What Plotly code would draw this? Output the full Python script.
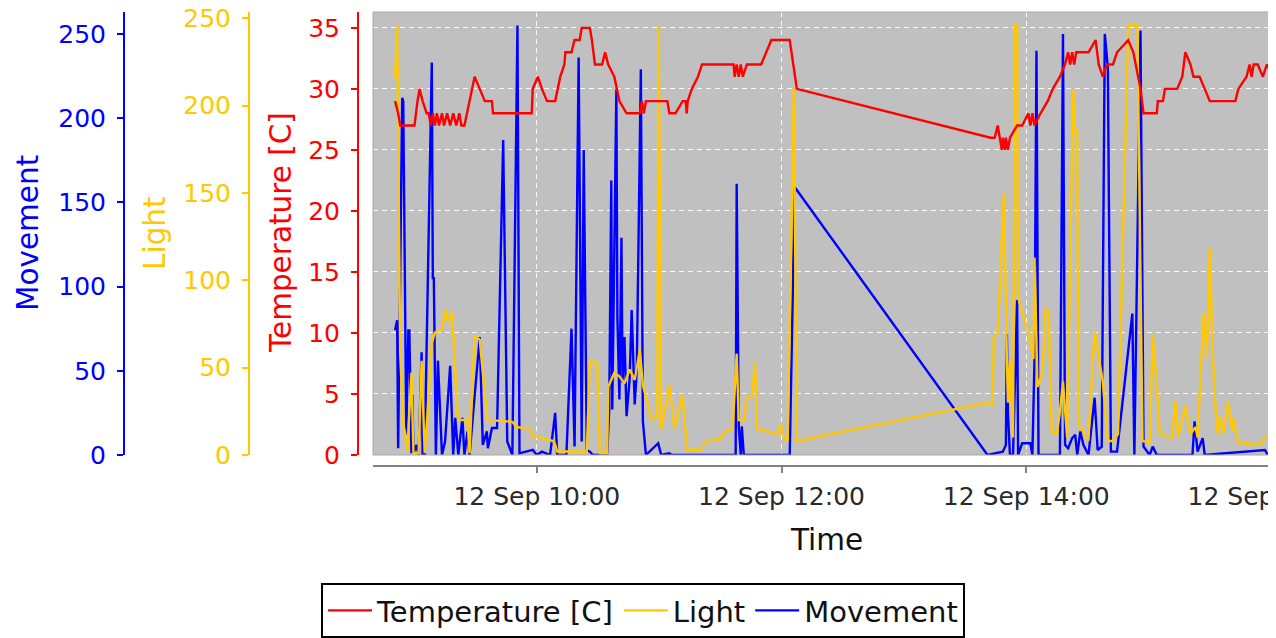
import plotly.graph_objects as go

DAY = "2013-09-12 "

# ---------------- data ----------------
temp_times = ["08:50:30","08:52:00","08:53:00","09:00:00","09:01:30","09:02:30","09:04:00","09:06:00","09:07:00","09:08:00",
              "09:09:00","09:10:00","09:11:00","09:12:00","09:13:30","09:14:30","09:16:00","09:17:30","09:19:00","09:20:30",
              "09:22:00","09:23:00","09:24:30","09:28:30","09:29:30","09:32:00","09:34:30","09:38:00","09:38:30","09:57:30",
              "09:58:00","10:00:30","10:02:30","10:05:00","10:09:00","10:11:30","10:13:30","10:14:00","10:17:00","10:18:30",
              "10:21:00","10:22:00","10:26:00","10:27:00","10:28:30","10:32:00","10:33:30","10:35:00","10:38:00","10:40:30",
              "10:44:00","10:50:30","10:51:30","10:52:30","10:53:30","11:04:00","11:05:00","11:08:00","11:11:30","11:13:00",
              "11:13:30","11:14:00","11:16:00","11:19:00","11:21:00","11:36:30","11:37:00","11:38:00","11:39:00","11:40:00",
              "11:41:00","11:43:00","11:50:00","11:55:00","12:04:00","12:07:30",
              "13:42:30","13:44:30","13:46:00","13:47:00","13:48:00","13:48:30","13:49:30","13:50:00","13:51:00","13:52:00",
              "13:55:30","13:58:00","14:01:00","14:02:00","14:03:00","14:04:00","14:07:00","14:10:30","14:13:00","14:16:30",
              "14:19:00","14:20:30","14:21:30","14:22:30","14:23:30","14:24:30","14:30:30","14:34:00","14:35:30","14:37:30",
              "14:39:30","14:42:30","14:44:30","14:50:00","14:52:30","14:56:00","14:57:30","15:04:00","15:04:30","15:07:00",
              "15:08:00","15:14:00","15:16:30","15:18:00","15:20:30","15:22:00","15:25:00","15:27:30","15:30:00","15:42:30",
              "15:44:00","15:48:00","15:49:30","15:50:30","15:51:30","15:53:30","15:56:00","15:58:00","16:01:00","16:02:30"]
temp_values = [29,28,27,27,29,30,29,28,28,27,
               28,27,28,27,28,27,28,27,28,27,
               28,27,27,30,31,30,29,29,28,28,
               30,31,30,29,29,31,32,33,33,34,
               34,35,35,34,32,32,33,32,31,29,
               28,28,29,28,29,29,28,28,29,29,
               28,29,30,31,32,32,31,32,31,32,
               31,32,32,34,34,30,
               26,26,27,26,25,26,25,26,25,26,
               27,27,28,27,28,27,28,29,30,31,
               32,33,32,33,32,33,33,34,32,31,
               32,32,33,34,33,30,28,28,29,29,
               30,30,31,33,32,31,31,30,29,29,
               30,31,32,31,32,32,31,32,31,30]

light_times = ["08:50:30","08:51:30","08:53:00","08:54:30","08:55:30","08:56:30","08:58:30","08:59:30","09:02:00","09:03:30",
               "09:05:00","09:06:30","09:08:30","09:10:00","09:13:30","09:15:00","09:16:30","09:18:30","09:21:00","09:21:30",
               "09:26:00","09:27:00","09:29:30","09:32:00","09:35:30","09:36:00","09:48:00","09:50:00","09:56:30","09:58:00",
               "10:08:00","10:09:00","10:10:00","10:24:30","10:26:00","10:29:30","10:31:00","10:34:30","10:35:00","10:38:00",
               "10:40:30","10:43:00","10:45:30","10:48:00","10:50:30","10:52:00","10:54:00","10:56:30","10:59:00","10:59:45",
               "11:01:00","11:05:00","11:07:30","11:11:30","11:13:30","11:20:00","11:23:30","11:29:30","11:33:00","11:36:00",
               "11:38:00","11:39:00","11:41:30","11:43:00","11:45:30","11:47:00","11:48:00","11:58:00","11:59:30","12:01:00",
               "12:03:00","12:06:00","12:07:30",
               "13:41:30","13:43:30","13:44:00","13:46:00","13:49:00","13:50:30","13:51:00","13:52:00","13:53:30","13:54:30",
               "13:55:30","13:56:00","14:01:00","14:03:30","14:04:00","14:05:30","14:08:00","14:09:30","14:11:00","14:12:30",
               "14:15:00","14:16:30","14:18:00","14:20:00","14:23:00","14:24:00","14:25:00","14:25:30","14:27:30","14:29:00",
               "14:30:30","14:33:30","14:37:30","14:40:00","14:42:30","14:45:00","14:50:00","14:54:30","14:57:00","15:00:30",
               "15:02:00","15:04:00","15:05:30","15:11:30","15:13:00","15:14:30","15:18:00","15:20:30","15:23:00","15:24:00",
               "15:26:00","15:27:00","15:28:30","15:30:00","15:31:30","15:33:30","15:35:00","15:36:30","15:39:00","15:41:00",
               "15:41:30","15:44:00","15:54:30","15:57:00","16:00:30","16:02:30"]
light_values = [216,246,58,18,12,2,47,1,1,54,
                1,25,64,70,72,83,76,82,24,20,
                20,1,68,66,22,20,19,16,15,11,
                8,6,2,2,54,53,1,1,39,47,
                45,41,49,43,60,40,31,20,22,246,
                15,40,15,35,3,3,8,9,14,15,
                58,20,20,33,34,53,15,12,18,10,
                8,210,8,
                30,28,67,70,150,54,30,54,10,246,
                246,90,70,55,113,39,47,84,82,13,
                12,25,42,10,209,184,186,17,15,10,
                9,71,42,8,8,12,246,246,8,7,
                69,40,12,10,31,10,28,12,16,10,
                58,81,56,119,55,12,22,12,31,14,
                21,7,6,10,12,20]

move_times = ["08:50:30","08:51:30","08:52:00","08:54:00","08:54:30","08:56:00","08:57:00","08:57:30","08:58:30","08:59:00",
              "08:59:30","09:01:00","09:02:00","09:03:30","09:04:00","09:05:00","09:08:30","09:09:00","09:09:30","09:10:30",
              "09:11:30","09:13:30","09:15:00","09:17:30","09:19:00","09:20:00","09:21:30","09:23:30","09:24:30","09:26:00",
              "09:27:00","09:32:00","09:33:30","09:35:30","09:36:00","09:38:00","09:40:30","09:43:30","09:45:30","09:48:00",
              "09:50:30","09:51:30","09:58:00","10:00:00","10:02:30","10:06:30","10:09:00","10:10:00","10:14:30","10:17:00",
              "10:18:30","10:20:30","10:22:00","10:23:00","10:24:30","10:26:00","10:27:30","10:34:30","10:35:30","10:36:30",
              "10:37:00","10:39:00","10:39:30","10:40:30","10:41:30","10:42:00","10:43:00","10:44:00","10:45:30","10:46:30",
              "10:48:00","10:49:00","10:51:00","10:52:00","10:53:30","10:59:30","11:01:00","11:05:00","11:06:00","11:37:30",
              "11:38:00","11:39:00","11:40:00","11:40:30","11:41:30","12:04:00","12:06:30",
              "13:41:00","13:48:30","13:50:00","13:50:30","13:51:00","13:52:00","13:53:30","13:55:30","13:56:00","13:58:00",
              "14:02:00","14:03:00","14:04:00","14:05:00","14:06:00","14:16:30","14:18:00","14:19:00","14:20:30","14:22:30",
              "14:24:00","14:25:00","14:26:30","14:28:00","14:30:30","14:33:30","14:35:00","14:37:00","14:38:30","14:40:00",
              "14:41:30","14:44:30","14:52:00","14:53:00","14:56:00","14:57:30","14:59:30","15:00:30","15:02:00","15:04:00",
              "15:21:30","15:22:30","15:24:00","15:26:30","15:27:30","15:57:00","15:58:30","16:02:30"]
move_values = [74,80,4,212,210,12,74,74,1,36,
               1,6,0,61,0,0,233,105,105,0,
               56,0,8,53,0,22,0,22,0,14,
               0,70,6,14,4,16,16,187,8,0,
               255,1,3,0,2,0,25,0,0,75,
               5,236,8,181,3,2,0,0,27,163,
               27,217,82,33,129,43,70,23,45,86,
               30,50,229,20,0,7,0,1,0,0,
               161,17,0,17,0,0,159,
               0,2,6,72,25,0,0,92,0,7,
               7,0,55,240,0,0,250,6,4,10,
               12,0,14,6,0,34,3,5,250,230,
               2,2,84,0,252,5,2,0,5,0,
               0,20,2,10,0,3,0,0]

series_names = ["Temperature [C]", "Light", "Movement"]
series_colors = ["#FF0000", "#FFC800", "#0000FF"]

# ---------------- geometry (pixels of the 1276x638 picture) ----------------
W, H = 1276, 638
OFF = 8                      # page body margin of the html page
FW, FH = W - OFF, H - OFF    # figure size so that it ends at the window edge
PLOT_L, PLOT_T, PLOT_B = 373, 12, 455
XAXIS_Y = 466
AX_MOVE, AX_LIGHT, AX_TEMP = 124, 249, 358

def px(x):
    return (x - OFF) / FW

def py(y):
    return 1 - (y - OFF) / FH

FONT = "DejaVu Sans"
TICK_SIZE = 25
TITLE_SIZE = 29.5
LW = 2.4

fig = go.Figure()

# Movement on the base axis (drawn first / bottom), temperature on top
fig.add_trace(go.Scatter(x=[DAY + t for t in move_times], y=move_values, name=series_names[2],
                         mode="lines", line=dict(color=series_colors[2], width=LW), yaxis="y", legendrank=3))
fig.add_trace(go.Scatter(x=[DAY + t for t in light_times], y=light_values, name=series_names[1],
                         mode="lines", line=dict(color=series_colors[1], width=LW), yaxis="y2", legendrank=2))
fig.add_trace(go.Scatter(x=[DAY + t for t in temp_times], y=temp_values, name=series_names[0],
                         mode="lines", line=dict(color=series_colors[0], width=LW), yaxis="y3", legendrank=1))

ydom = [py(PLOT_B), py(PLOT_T)]

def yax(color, rng, dtick, pos, grid, overlay=None):
    d = dict(domain=ydom, range=rng, dtick=dtick, tick0=0, anchor="free", position=px(pos), side="left",
             showline=True, linecolor=color, linewidth=2, ticks="outside", ticklen=6, tickwidth=2,
             tickcolor=color, tickfont=dict(family=FONT, size=TICK_SIZE, color=color),
             ticklabelstandoff=6, ticklabeloverflow="allow",
             zeroline=False, showgrid=grid, fixedrange=True, automargin=False)
    if grid:
        d.update(gridcolor="rgba(255,255,255,0.9)", griddash="5px,4px", gridwidth=1.2)
    if overlay:
        d["overlaying"] = overlay
    return d

fig.update_layout(
    width=FW, height=FH,
    margin=dict(l=0, r=0, t=0, b=0, pad=0, autoexpand=False),
    paper_bgcolor="white",
    plot_bgcolor="#C0C0C0",
    font=dict(family=FONT, color="#333333"),
    showlegend=True,
    xaxis=dict(domain=[px(PLOT_L), 1], anchor="free", position=py(XAXIS_Y),
               type="date", range=[DAY + "08:39:40", DAY + "16:02:27"],
               tick0=DAY + "10:00:00", dtick=2 * 3600 * 1000, tickformat="%d %b %H:%M",
               showline=True, linecolor="#808080", linewidth=2, ticks="outside", ticklen=6, tickwidth=2,
               tickcolor="#808080", tickfont=dict(family=FONT, size=TICK_SIZE, color="#2a2a2a"),
               ticklabelstandoff=2, ticklabeloverflow="allow", automargin=False,
               showgrid=True, gridcolor="rgba(255,255,255,0.9)", griddash="5px,4px", gridwidth=1.2,
               zeroline=False, fixedrange=True),
    yaxis=yax(series_colors[2], [0, 263], 50, AX_MOVE, False),
    yaxis2=yax(series_colors[1], [0, 253.6], 50, AX_LIGHT, False, overlay="y"),
    yaxis3=yax(series_colors[0], [0, 36.3], 5, AX_TEMP, True, overlay="y"),
    legend=dict(orientation="h", x=px(643), xanchor="center", y=py(583), yanchor="top",
                bordercolor="black", borderwidth=2, bgcolor="white",
                font=dict(family=FONT, size=29, color="#111111"),
                itemwidth=44, tracegroupgap=0),
    annotations=[
        dict(text="Movement", x=px(28), y=py(233), xref="paper", yref="paper", showarrow=False,
             textangle=-90, xanchor="center", yanchor="middle",
             font=dict(family=FONT, size=TITLE_SIZE, color=series_colors[2])),
        dict(text="Light", x=px(155), y=py(233), xref="paper", yref="paper", showarrow=False,
             textangle=-90, xanchor="center", yanchor="middle",
             font=dict(family=FONT, size=TITLE_SIZE, color=series_colors[1])),
        dict(text="Temperature [C]", x=px(281), y=py(233), xref="paper", yref="paper", showarrow=False,
             textangle=-90, xanchor="center", yanchor="middle",
             font=dict(family=FONT, size=TITLE_SIZE, color=series_colors[0])),
        dict(text="Time", x=px(826), y=py(540), xref="paper", yref="paper", showarrow=False,
             xanchor="center", yanchor="middle",
             font=dict(family=FONT, size=TITLE_SIZE, color="#111111")),
    ],
    shapes=[dict(type="rect", xref="x domain", yref="y domain", x0=0, x1=1, y0=0, y1=1,
                 line=dict(color="#A8A8A8", width=1), layer="above")],
)

fig.write_html("out.html")
